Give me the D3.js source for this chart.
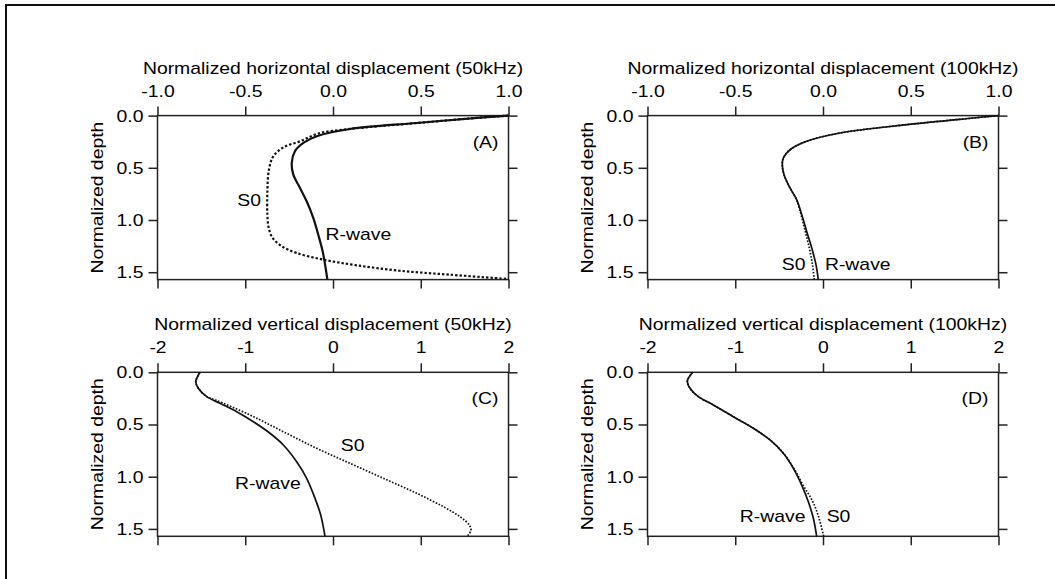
<!DOCTYPE html>
<html>
<head>
<meta charset="utf-8">
<script src="https://d3js.org/d3.v7.min.js"></script>
<style>
body { margin: 0; background: #fff; }
svg text { font-family: "Liberation Sans", Arial, sans-serif; font-size: 17px; fill: #000; }
.tick line { stroke: #222; stroke-width: 1.5; }
.frame { fill: none; stroke: #222; stroke-width: 1.5; }
</style>
</head>
<body>
<div id="chart"></div>
<script>
var width = 1055, height = 579;
var maxDepth = Math.PI / 2;
var textStretch = 1.14; // the source font is wider than Arial

// axis ticks
var hTicks = [-1, -0.5, 0, 0.5, 1];
var hTickLabels = ["-1.0", "-0.5", "0.0", "0.5", "1.0"];
var vTicks = [-2, -1, 0, 1, 2];
var vTickLabels = ["-2", "-1", "0", "1", "2"];
var depthTicks = [0, 0.5, 1, 1.5];
var depthTickLabels = ["0.0", "0.5", "1.0", "1.5"];

// (A) horizontal, 50kHz
var aRwaveDepth = [0, 0.017, 0.071, 0.128, 0.198, 0.262, 0.342, 0.454, 0.566, 0.693, 0.821, 0.981, 1.141, 1.300, 1.460, 1.571];
var aRwaveDisp  = [1.0, 0.857, 0.477, 0.097, -0.093, -0.169, -0.217, -0.235, -0.226, -0.188, -0.150, -0.112, -0.084, -0.059, -0.042, -0.032];
var aS0Depth = [0, 0.017, 0.071, 0.128, 0.170, 0.246, 0.304, 0.390, 0.518, 0.725, 0.949, 1.077, 1.172, 1.252, 1.316, 1.380, 1.434, 1.486, 1.524, 1.565];
var aS0Disp  = [1.0, 0.857, 0.477, 0.097, -0.080, -0.188, -0.283, -0.340, -0.365, -0.374, -0.374, -0.366, -0.344, -0.292, -0.207, -0.055, 0.135, 0.382, 0.667, 1.0];

// (B) horizontal, 100kHz
var bRwaveDepth = [0, 0.023, 0.087, 0.167, 0.246, 0.327, 0.406, 0.470, 0.566, 0.693, 0.805, 0.949, 1.109, 1.268, 1.428, 1.571];
var bRwaveDisp  = [1.0, 0.857, 0.477, 0.097, -0.093, -0.188, -0.226, -0.232, -0.222, -0.188, -0.150, -0.121, -0.093, -0.064, -0.040, -0.027];
var bS0Depth = [0, 0.023, 0.087, 0.167, 0.246, 0.327, 0.406, 0.470, 0.566, 0.693, 0.805, 0.949, 1.109, 1.268, 1.428, 1.571];
var bS0Disp  = [1.0, 0.857, 0.477, 0.097, -0.093, -0.188, -0.226, -0.232, -0.222, -0.188, -0.151, -0.125, -0.101, -0.078, -0.060, -0.050];

// (C) vertical, 50kHz
var cRwaveDepth = [0, 0.058, 0.090, 0.153, 0.233, 0.297, 0.377, 0.473, 0.584, 0.696, 0.856, 1.015, 1.207, 1.367, 1.572];
var cRwaveDisp  = [-1.516, -1.553, -1.564, -1.535, -1.439, -1.288, -1.097, -0.908, -0.718, -0.566, -0.414, -0.300, -0.205, -0.140, -0.091];
var cS0Depth = [0, 0.058, 0.090, 0.153, 0.233, 0.265, 0.409, 0.569, 0.728, 0.872, 1.015, 1.159, 1.287, 1.383, 1.463, 1.511, 1.558, 1.572];
var cS0Disp  = [-1.516, -1.553, -1.564, -1.535, -1.439, -1.340, -0.946, -0.566, -0.186, 0.194, 0.573, 0.954, 1.257, 1.447, 1.553, 1.573, 1.542, 1.523];

// (D) vertical, 100kHz
var dRwaveDepth = [0, 0.058, 0.090, 0.153, 0.233, 0.313, 0.425, 0.536, 0.648, 0.776, 0.920, 1.080, 1.240, 1.398, 1.572];
var dRwaveDisp  = [-1.485, -1.535, -1.546, -1.516, -1.421, -1.250, -1.022, -0.794, -0.604, -0.452, -0.338, -0.243, -0.167, -0.110, -0.072];
var dS0Depth = [0, 0.058, 0.090, 0.153, 0.233, 0.313, 0.425, 0.536, 0.648, 0.776, 0.920, 1.080, 1.240, 1.398, 1.572];
var dS0Disp  = [-1.485, -1.535, -1.546, -1.516, -1.421, -1.250, -1.022, -0.794, -0.604, -0.450, -0.332, -0.228, -0.115, -0.045, 0.008];

var plotW = 351, plotH = 164;

var panels = [
  { letter: "(A)", left: 157.5, top: 115.6, domain: [-1, 1], ticks: hTicks, labels: hTickLabels,
    title: "Normalized horizontal displacement (50kHz)", lw: 2.2,
    solid: [aRwaveDepth, aRwaveDisp], dotted: [aS0Depth, aS0Disp],
    notes: [{ t: "S0", v: -0.41, d: 0.863, anchor: "end" }, { t: "R-wave", v: -0.042, d: 1.195, anchor: "start" }] },
  { letter: "(B)", left: 647.5, top: 115.6, domain: [-1, 1], ticks: hTicks, labels: hTickLabels,
    title: "Normalized horizontal displacement (100kHz)", lw: 1.7,
    solid: [bRwaveDepth, bRwaveDisp], dotted: [bS0Depth, bS0Disp],
    notes: [{ t: "S0", v: -0.1, d: 1.476, anchor: "end" }, { t: "R-wave", v: 0.011, d: 1.476, anchor: "start" }] },
  { letter: "(C)", left: 157.5, top: 372.3, domain: [-2, 2], ticks: vTicks, labels: vTickLabels,
    title: "Normalized vertical displacement (50kHz)", lw: 1.7,
    solid: [cRwaveDepth, cRwaveDisp], dotted: [cS0Depth, cS0Disp],
    notes: [{ t: "S0", v: 0.088, d: 0.754, anchor: "start" }, { t: "R-wave", v: -1.117, d: 1.118, anchor: "start" }] },
  { letter: "(D)", left: 647.5, top: 372.3, domain: [-2, 2], ticks: vTicks, labels: vTickLabels,
    title: "Normalized vertical displacement (100kHz)", lw: 1.7,
    solid: [dRwaveDepth, dRwaveDisp], dotted: [dS0Depth, dS0Disp],
    notes: [{ t: "R-wave", v: -0.2, d: 1.437, anchor: "end" }, { t: "S0", v: 0.042, d: 1.437, anchor: "start" }] }
];

var svg = d3.select("#chart").append("svg")
  .attr("width", width).attr("height", height);

// outer border (only top and left edge visible)
svg.append("rect").attr("x", 6).attr("y", 5).attr("width", 1200).attr("height", 800)
  .style("fill", "none").style("stroke", "#111").style("stroke-width", 2);

panels.forEach(function (p) {
  var g = svg.append("g").attr("transform", "translate(" + p.left + "," + p.top + ")");
  var x = d3.scaleLinear().domain(p.domain).range([0, plotW]);
  var y = d3.scaleLinear().domain([0, maxDepth]).range([0, plotH]);

  var top = g.append("g").call(d3.axisTop(x).tickValues(p.ticks).tickSize(9).tickPadding(10)
    .tickFormat(function (d, i) { return p.labels[i]; }));
  var bottom = g.append("g").attr("transform", "translate(0," + plotH + ")")
    .call(d3.axisBottom(x).tickValues(p.ticks).tickSize(9).tickFormat(""));
  var left = g.append("g").call(d3.axisLeft(y).tickValues(depthTicks).tickSize(9).tickPadding(5)
    .tickFormat(function (d, i) { return depthTickLabels[i]; }));
  var right = g.append("g").attr("transform", "translate(" + plotW + ",0)")
    .call(d3.axisRight(y).tickValues(depthTicks).tickSize(9).tickFormat(""));
  [top, bottom, left, right].forEach(function (a) {
    a.select(".domain").remove();
    a.selectAll("text").attr("fill", null);
    a.attr("font-size", null).attr("font-family", null);
  });

  g.append("rect").attr("class", "frame").attr("width", plotW).attr("height", plotH);

  g.append("text").attr("x", plotW / 2).attr("y", -42).attr("text-anchor", "middle").text(p.title);
  g.append("text").attr("transform", "translate(-54.5," + plotH / 2 + ") rotate(-90)")
    .attr("text-anchor", "middle").text("Normalized depth");
  g.append("text").attr("x", plotW - 10).attr("y", 32).attr("text-anchor", "end").text(p.letter);

  var line = d3.line()
    .x(function (d) { return x(d[1]); })
    .y(function (d) { return y(d[0]); })
    .curve(d3.curveCatmullRom.alpha(0.5));

  g.append("path").datum(d3.zip(p.dotted[0], p.dotted[1]))
    .attr("d", line)
    .style("fill", "none").style("stroke", "#111")
    .style("stroke-width", p.lw).style("stroke-dasharray", p.lw > 2 ? "2.4,2" : "1.6,1.6");
  g.append("path").datum(d3.zip(p.solid[0], p.solid[1]))
    .attr("d", line)
    .style("fill", "none").style("stroke", "#111").style("stroke-width", p.lw);

  p.notes.forEach(function (n) {
    g.append("text").attr("x", x(n.v)).attr("y", y(n.d))
      .attr("text-anchor", n.anchor).text(n.t);
  });
});

// widen every label to match the broad typeface of the original
svg.selectAll("text").each(function () {
  var len = this.getComputedTextLength();
  d3.select(this).attr("textLength", len * textStretch).attr("lengthAdjust", "spacingAndGlyphs");
});
</script>
</body>
</html>
